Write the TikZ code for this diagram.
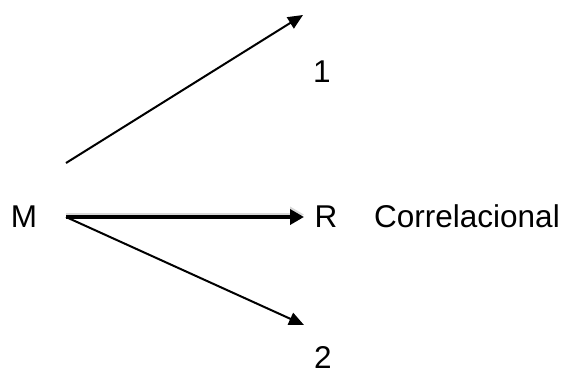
\documentclass[tikz,border=0pt]{standalone}
\usepackage{fontspec}
\setmainfont{Liberation Sans}
\usetikzlibrary{arrows.meta}

\begin{document}
\begin{tikzpicture}[
        x=1pt, y=-1pt,
        font=\fontsize{31.5}{38}\selectfont,
        lbl/.style={inner sep=0pt},
        thinarrow/.style={line width=2pt, -{Triangle[length=15pt,width=13pt]}},
        thickarrow/.style={line width=4pt, -{Triangle[length=14pt,width=15pt]}},
      ]
        \useasboundingbox (0,0) rectangle (562,376);

        \node[lbl] (m) at (24,217) {M};
        \node[lbl] (r) at (326,217) {R};
        \node[lbl] (corr) at (467,216) {Correlacional};
        \node[lbl] (one) at (322,72) {1};
        \node[lbl] (two) at (323,357) {2};

        \coordinate (src) at (66,217);
        \coordinate (srcup) at (66,163);
        \coordinate (tipone) at (303,15);
        \coordinate (tipr) at (304,217);
        \coordinate (tiptwo) at (304,325);

        \draw[thickarrow, black!15] ([yshift=2.5pt]src) -- ([yshift=2.5pt]tipr);
        \draw[thinarrow] (srcup) -- (tipone);
        \draw[thickarrow] (src) -- (tipr);
        \draw[thinarrow] (src) -- (tiptwo);
      \end{tikzpicture}
\end{document}
